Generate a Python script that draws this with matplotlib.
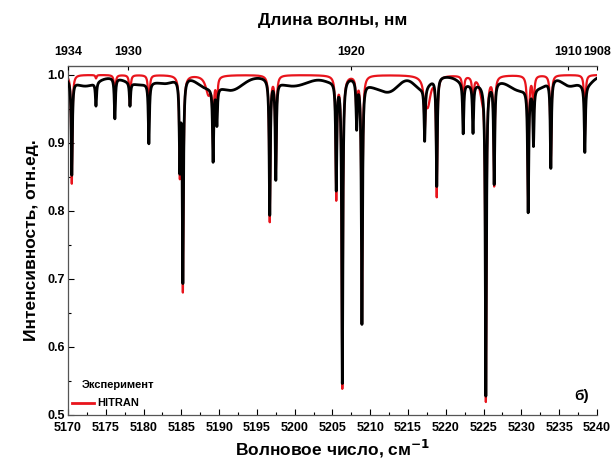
import numpy as np
import matplotlib
matplotlib.use('Agg')
import matplotlib.pyplot as plt
from matplotlib.ticker import MultipleLocator

plt.rcParams['font.family'] = ['Liberation Sans', 'DejaVu Sans']
plt.rcParams['font.weight'] = 'bold'

# absorption lines: centre (cm-1), minimum transmission
line_pos = [5170.5, 5173.7, 5176.2, 5178.2, 5180.7, 5184.8, 5185.2, 5189.2,
            5189.7, 5196.7, 5197.5, 5205.5, 5206.3, 5208.2, 5208.9, 5217.2,
            5218.8, 5222.3, 5223.6, 5225.3, 5226.4, 5230.9, 5231.6, 5233.9,
            5238.4]
hitran_min = [0.84, 0.995, 0.96, 0.955, 0.93, 0.86, 0.685, 0.90,
              0.95, 0.785, 0.85, 0.82, 0.54, 0.93, 0.635, 0.94,
              0.825, 0.94, 0.94, 0.525, 0.84, 0.80, 0.925, 0.864,
              0.91]
exp_min = [0.86, 0.965, 0.94, 0.965, 0.91, 0.87, 0.70, 0.89,
           0.945, 0.80, 0.855, 0.84, 0.55, 0.93, 0.64, 0.92,
           0.84, 0.925, 0.928, 0.535, 0.85, 0.815, 0.915, 0.87,
           0.90]

# broad weak structures in the HITRAN curve: centre, minimum, half width
hitran_band_pos = [5188.6, 5217.6, 5224.8]
hitran_band_min = [0.972, 0.955, 0.975]
hitran_band_w = [0.45, 0.45, 0.4]

# broad structures of the measured baseline: centre, depth, half width
exp_band_pos = [5172.3, 5179.5, 5183.0, 5188.3, 5191.6, 5199.8, 5204.8,
                5210.3, 5212.6, 5216.8, 5222.6, 5225.0, 5229.8, 5232.6,
                5236.4, 5238.6]
exp_band_depth = [0.014, 0.012, 0.008, 0.015, 0.02, 0.014, 0.006,
                  0.012, 0.02, 0.018, 0.008, 0.01, 0.02, 0.012,
                  0.014, 0.012]
exp_band_w = [1.5, 1.8, 1.0, 1.2, 1.5, 2.0, 1.0,
              1.3, 1.2, 1.0, 1.0, 1.5, 1.5, 1.0,
              1.0, 0.8]

top_pos = [5170, 5178, 5207.5, 5236.2, 5240]
top_labels = ['1934', '1930', '1920', '1910', '1908']

LINE_HW = 0.09
RED = '#e8141c'


def lorentz(x, x0, w):
    return w**2 / ((x - x0)**2 + w**2)


def spectrum(x, pos, mins, w):
    t = np.ones_like(x)
    for p, m in zip(pos, mins):
        t *= 1 - (1 - m) * lorentz(x, p, w)
    return t


wn = np.arange(5170, 5240.001, 0.01)

hitran = spectrum(wn, line_pos, hitran_min, LINE_HW)
for p, m, w in zip(hitran_band_pos, hitran_band_min, hitran_band_w):
    hitran *= 1 - (1 - m) * lorentz(wn, p, w)

base = np.full_like(wn, 0.998)
for p, d, w in zip(exp_band_pos, exp_band_depth, exp_band_w):
    base -= d * np.exp(-0.5 * ((wn - p) / w)**2)
exper = base * spectrum(wn, line_pos, exp_min, LINE_HW)

fig = plt.figure(figsize=(6.15, 4.59), dpi=100)
ax = fig.add_axes([0.1106, 0.0959, 0.86, 0.7603])

ax.plot(wn, hitran, color=RED, lw=1.6, zorder=2)
ax.plot(wn, exper, color='black', lw=2.0, zorder=3)

ax.set_xlim(5170, 5240)
ax.set_ylim(0.5, 1.013)
ax.xaxis.set_major_locator(MultipleLocator(5))
ax.xaxis.set_minor_locator(MultipleLocator(2.5))
ax.yaxis.set_major_locator(MultipleLocator(0.1))
ax.yaxis.set_minor_locator(MultipleLocator(0.05))
ax.yaxis.set_major_formatter(plt.FormatStrFormatter('%.1f'))
ax.tick_params(which='both', direction='in', labelsize=9, width=0.8)
ax.tick_params(which='major', length=4)
ax.tick_params(which='minor', length=2)
ax.tick_params(axis='x', pad=5)
ax.tick_params(axis='y', pad=2)
for s in ax.spines.values():
    s.set_color('#555555')
    s.set_linewidth(0.9)
ax.spines['right'].set_visible(False)

ax.set_xlabel('Волновое число, см$^{\\mathbf{-1}}$', fontsize=12.5,
              fontweight='bold', labelpad=3)
ax.set_ylabel('Интенсивность, отн.ед.', fontsize=12.5, fontweight='bold',
              labelpad=6)

top = ax.twiny()
top.set_xlim(ax.get_xlim())
top.set_xticks(top_pos)
top.set_xticklabels(top_labels)
top.tick_params(direction='in', labelsize=9, length=3, pad=6)
top.spines['right'].set_visible(False)
top.spines['left'].set_visible(False)
top.spines['bottom'].set_visible(False)
top.spines['top'].set_color('#555555')
top.set_xlabel('Длина волны, нм', fontsize=12.5, fontweight='bold', labelpad=15)

# legend drawn by hand: the experiment entry has no line sample
ax.text(0.025, 0.085, 'Эксперимент', transform=ax.transAxes, fontsize=8,
        fontweight='bold', va='center')
ax.plot([0.008, 0.05], [0.035, 0.035], transform=ax.transAxes, color=RED,
        lw=2, zorder=4)
ax.text(0.055, 0.035, 'HITRAN', transform=ax.transAxes, fontsize=8,
        fontweight='bold', va='center')

ax.text(0.985, 0.035, 'б)', transform=ax.transAxes, ha='right', va='bottom',
        fontsize=11, fontweight='bold')

fig.savefig('out.png', dpi=100)
